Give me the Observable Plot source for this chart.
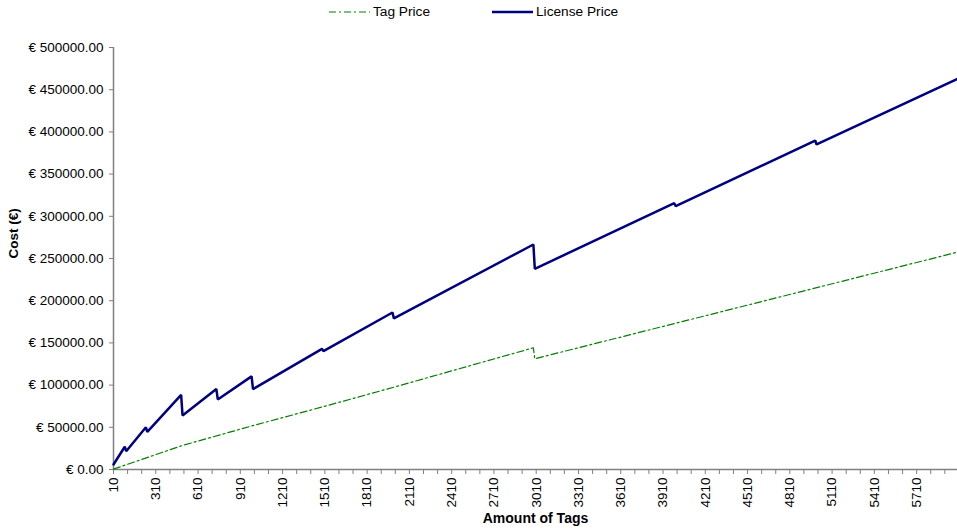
<!DOCTYPE html>
<html>
<head>
<meta charset="utf-8">
<script src="https://cdn.jsdelivr.net/npm/d3@7"></script>
<script src="https://cdn.jsdelivr.net/npm/@observablehq/plot@0.6"></script>
<style>
  html, body { margin: 0; padding: 0; background: #fff; }
  body { width: 957px; height: 531px; overflow: hidden; font-family: "Liberation Sans", Arial, sans-serif; }
  #legend { position: relative; width: 957px; height: 24px; font-size: 13.7px; color: #000; }
  #legend .item { position: absolute; top: 3px; display: flex; align-items: center; height: 17px; }
  #legend svg { display: block; margin-right: 3px; }
</style>
</head>
<body>
<div id="legend"></div>
<div id="chart"></div>
<script>
// Series: License Price (points where the piecewise line changes)
const licenseTags  = [10, 90, 100, 240, 250, 490, 500, 740, 750, 990, 1000, 1490, 1500, 1990, 2000, 2990, 3000, 3990, 4000, 4990, 5000, 6000];
const licenseCost  = [5900, 27000, 21700, 50000, 44500, 88500, 64000, 95500, 83000, 110300, 95200, 143000, 140200, 186000, 179000, 266600, 237800, 315500, 312000, 389800, 385100, 462900];

// Series: Tag Price
const tagTags  = [10, 500, 1000, 1500, 2000, 2990, 3000, 6000];
const tagCost  = [500, 28500, 52000, 74500, 97500, 144200, 131200, 257500];

// Axis ticks
const xMinorTicks = d3.range(10, 6000, 100);
const xTickLabels = [10, 310, 610, 910, 1210, 1510, 1810, 2110, 2410, 2710, 3010, 3310, 3610, 3910, 4210, 4510, 4810, 5110, 5410, 5710];
const yTicks = [0, 50000, 100000, 150000, 200000, 250000, 300000, 350000, 400000, 450000, 500000];

const seriesNames = ["Tag Price", "License Price"];
const seriesColors = ["#008000", "#000080"];

const license = licenseTags.map((t, i) => ({tags: t, cost: licenseCost[i], series: seriesNames[1]}));
const tag = tagTags.map((t, i) => ({tags: t, cost: tagCost[i], series: seriesNames[0]}));

// Legend
const legend = document.getElementById("legend");
const legendSpec = [
  {name: seriesNames[0], color: seriesColors[0], dash: "7,3,2,3", width: 1, left: 329},
  {name: seriesNames[1], color: seriesColors[1], dash: null, width: 2.5, left: 492}
];
for (const s of legendSpec) {
  const item = document.createElement("div");
  item.className = "item";
  item.style.left = s.left + "px";
  item.innerHTML = `<svg width="41" height="6"><line x1="0" x2="41" y1="3" y2="3" stroke="${s.color}" stroke-width="${s.width}" ${s.dash ? `stroke-dasharray="${s.dash}"` : ""}/></svg><span>${s.name}</span>`;
  legend.appendChild(item);
}

const chart = Plot.plot({
  width: 957,
  height: 507,
  marginTop: 23,
  marginBottom: 62,
  marginLeft: 113,
  marginRight: 0,
  style: {fontFamily: "'Liberation Sans', Arial, sans-serif", fontSize: "13.5px", color: "#000", background: "#fff"},
  x: {domain: [10, 6000]},
  y: {domain: [0, 500000]},
  marks: [
    Plot.axisY({
      ticks: yTicks,
      tickFormat: d => "€ " + d.toFixed(2),
      tickSize: 4,
      tickPadding: 6,
      stroke: "#808080",
      fill: "#000",
      label: null
    }),
    Plot.axisX({
      ticks: xMinorTicks,
      tickFormat: d => xTickLabels.includes(d) ? String(d) : "",
      tickSize: 5,
      tickPadding: 3,
      tickRotate: -90,
      stroke: "#808080",
      fill: "#000",
      label: null
    }),
    Plot.ruleX([10], {stroke: "#808080", strokeWidth: 1.5}),
    Plot.ruleY([0], {stroke: "#808080", strokeWidth: 1.5}),
    Plot.line(tag, {x: "tags", y: "cost", stroke: seriesColors[0], strokeWidth: 1.2, strokeDasharray: "7,3,2,3"}),
    Plot.line(license, {x: "tags", y: "cost", stroke: seriesColors[1], strokeWidth: 2.5, strokeLinejoin: "miter"}),
    Plot.text(["Cost (€)"], {frameAnchor: "left", dx: -100, rotate: -90, fontWeight: "bold", fontSize: 13.5}),
    Plot.text(["Amount of Tags"], {frameAnchor: "bottom", dy: 53, fontWeight: "bold", fontSize: 14})
  ]
});
document.getElementById("chart").appendChild(chart);
</script>
</body>
</html>
